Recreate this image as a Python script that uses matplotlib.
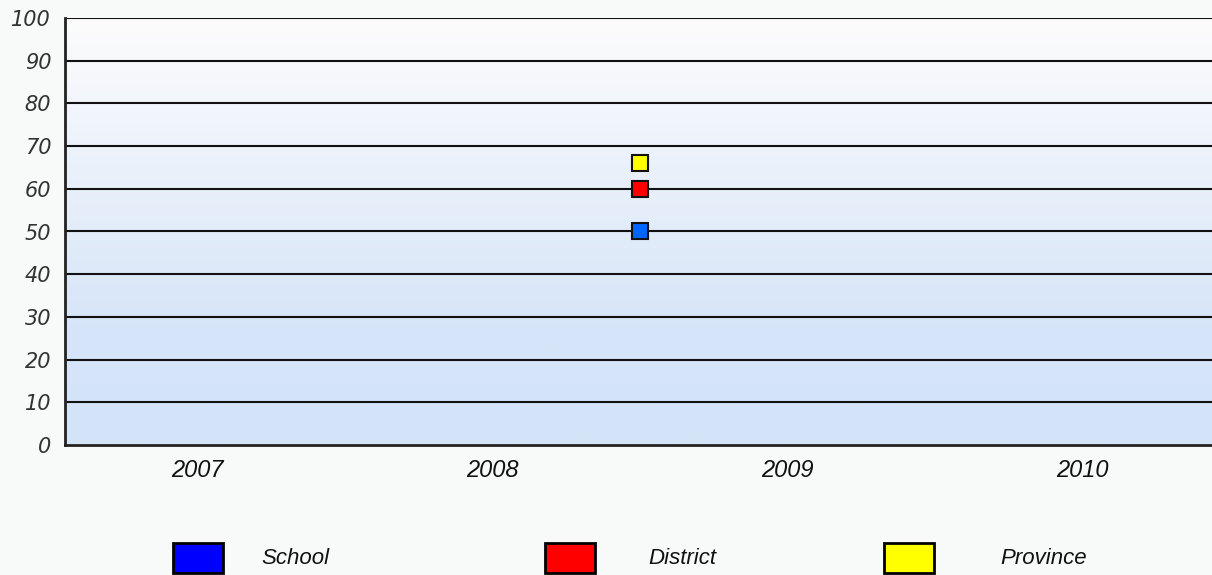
import numpy as np
import matplotlib.pyplot as plt
from matplotlib.colors import LinearSegmentedColormap
from matplotlib.patches import Rectangle

# Data
years = ['2007', '2008', '2009', '2010']
series = ['School', 'District', 'Province']
values = [50, 60, 66]
marker_colors = ['#0066ff', '#ff0000', '#ffff00']
legend_colors = ['#0000ff', '#ff0000', '#ffff00']
point_x = 1.5  # between 2008 and 2009 (school year)

W, H = 1212, 575
fig = plt.figure(figsize=(W / 100, H / 100), dpi=100)
fig.patch.set_facecolor('#f8f9f9')

ax = fig.add_axes([65 / W, 130 / H, 1 - 65 / W, 427 / H])
ax.set_xlim(-0.45, 3.44)
ax.set_ylim(0, 100)

# vertical gradient background
cmap = LinearSegmentedColormap.from_list('bg', [(0, '#d4e4f8'), (0.28, '#d6e5f8'), (0.75, '#f0f4fb'), (1, '#fcfcfc')])
grad = np.linspace(0, 1, 256).reshape(-1, 1)
ax.imshow(grad, cmap=cmap, origin='lower', aspect='auto', extent=[-0.45, 3.44, 0, 100], zorder=0)

for y in range(10, 101, 10):
    ax.axhline(y, color='#111111', lw=1.5, zorder=1)

for s in ['top', 'right']:
    ax.spines[s].set_visible(False)
for s in ['left', 'bottom']:
    ax.spines[s].set_color('#222222')
    ax.spines[s].set_linewidth(2)

ax.set_yticks(range(0, 101, 10))
ax.set_yticklabels([str(v) for v in range(0, 101, 10)], family='DejaVu Sans', style='italic', fontsize=15, color='#333333')
ax.set_xticks(range(len(years)))
ax.set_xticklabels(years, family='Liberation Sans', style='italic', fontsize=17, color='#111111')
ax.tick_params(axis='y', length=0, pad=10)
ax.tick_params(axis='x', length=0, pad=10)

for v, c in zip(values, marker_colors):
    ax.plot(point_x, v, marker='s', ms=12, mfc=c, mec='#111111', mew=1.5, zorder=3, clip_on=False)

# legend row
box_x = [173, 545, 884]
text_x = [261, 648, 1000]
for name, c, bx, tx in zip(series, legend_colors, box_x, text_x):
    fig.patches.append(Rectangle((bx / W, 2 / H), 50 / W, 30 / H, transform=fig.transFigure,
                                 facecolor=c, edgecolor='black', lw=2))
    fig.text(tx / W, 17 / H, name, family='Liberation Sans', style='italic', fontsize=16,
             va='center', ha='left', color='#111111')

fig.savefig('out.png', dpi=100, facecolor=fig.get_facecolor())
